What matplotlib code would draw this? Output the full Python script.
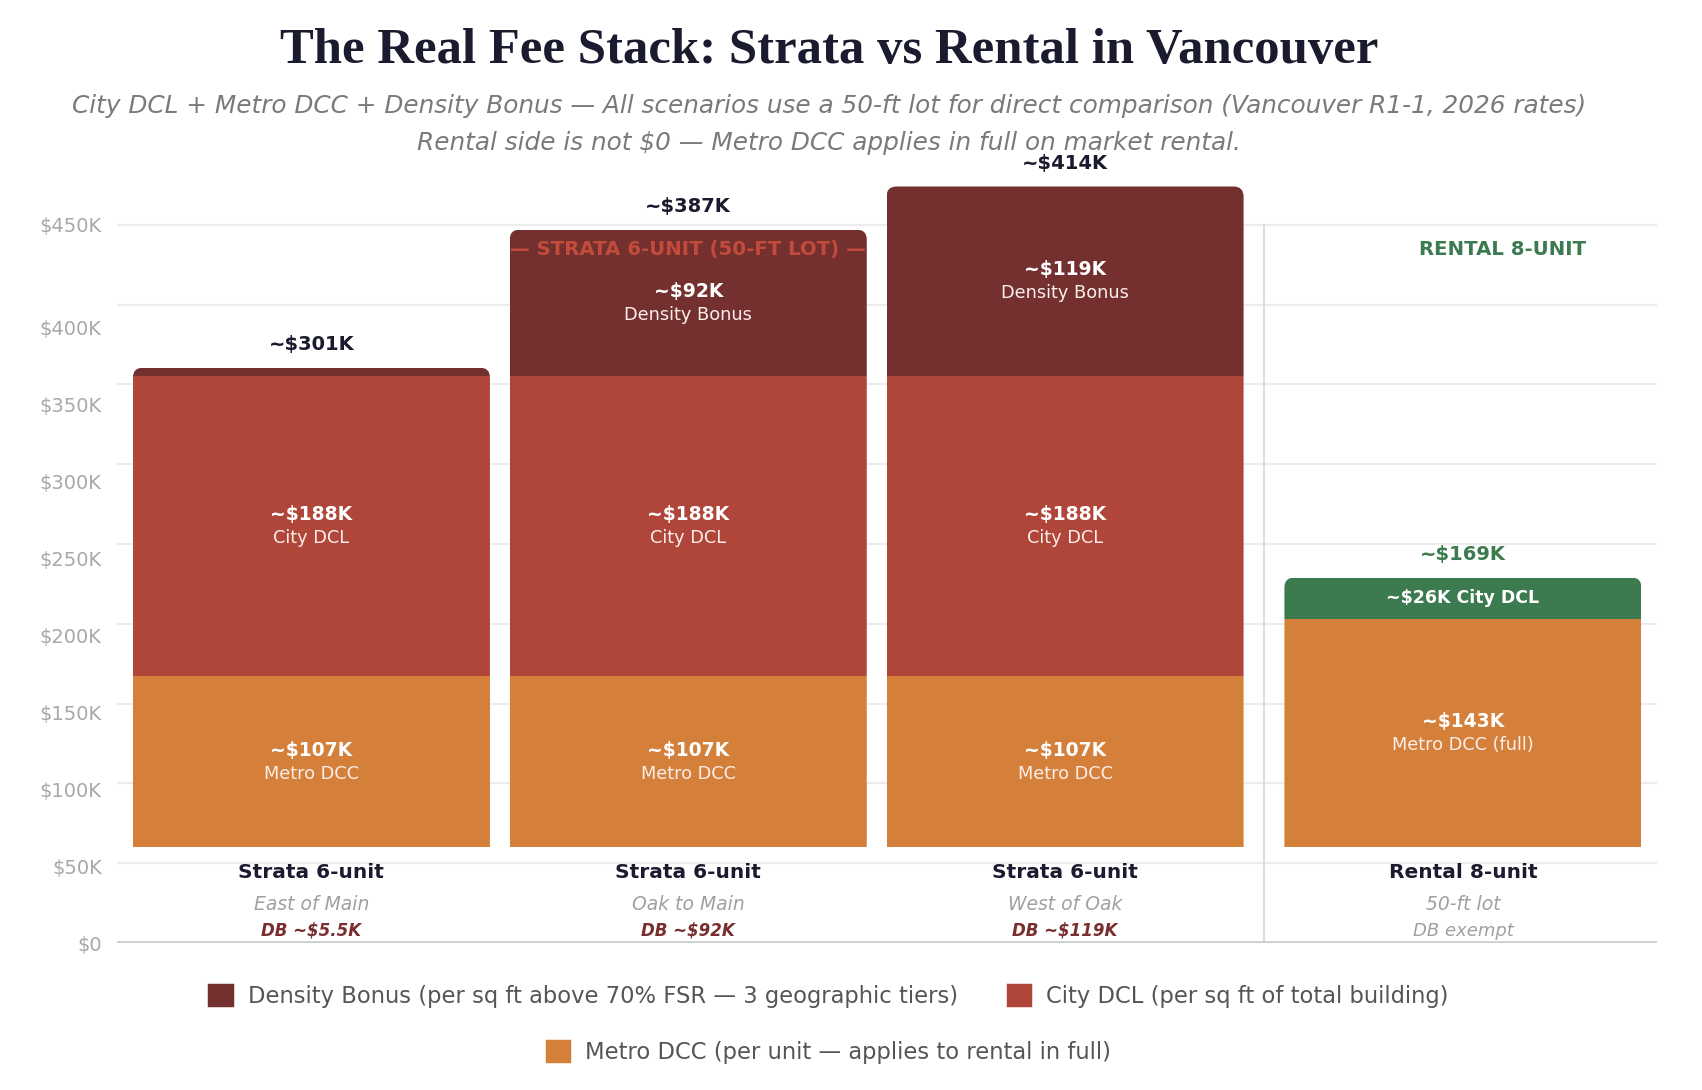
import matplotlib
matplotlib.use("Agg")
import matplotlib.pyplot as plt
from matplotlib.patches import FancyBboxPatch, Patch
import numpy as np

plt.rcParams["font.family"] = ["DejaVu Sans"]

# ================== DATA ($K) ==================
scenarios = ["Strata 6-unit", "Strata 6-unit", "Strata 6-unit", "Rental 8-unit"]
locations = ["East of Main", "Oak to Main", "West of Oak", "50-ft lot"]
db_notes = ["DB ~$5.5K", "DB ~$92K", "DB ~$119K", "DB exempt"]
metro_dcc = [107, 107, 107, 143]
city_dcl = [188, 188, 188, 26]
density_bonus = [5.5, 92, 119, 0]
totals = [301, 387, 414, 169]
metro_names = ["Metro DCC", "Metro DCC", "Metro DCC", "Metro DCC (full)"]
ytick_vals = [0, 50, 100, 150, 200, 250, 300, 350, 400, 450]

# ================== STYLE ==================
C_DB = "#74302f"
C_CITY = "#b0453a"
C_METRO = "#d4803a"
C_GREEN = "#3c7a4f"
C_NAVY = "#1b1b2f"
C_HEAD = "#c24b3b"

W, H = 1702, 1090
fig = plt.figure(figsize=(W / 100, H / 100), dpi=100)

# plot area in pixels
px_left, px_right, px_bottom, px_top = 117, 1657, 943, 140
px_per_k = 79.8 / 50          # grid scale
lab_px_per_k = 76.9 / 50      # the tick labels sit on a slightly tighter scale
rect = [px_left / W, 1 - px_bottom / H, (px_right - px_left) / W, (px_bottom - px_top) / H]

# tick label axis (behind); the top label stays pinned to the top gridline
lab_pos = [v * 1.0 for v in ytick_vals]
lab_pos[-1] = ytick_vals[-1] * px_per_k / lab_px_per_k
ax_lab = fig.add_axes(rect, zorder=0)
ax_lab.set_ylim(0, (px_bottom - px_top) / lab_px_per_k)
ax_lab.set_yticks(lab_pos)
ax_lab.set_yticklabels(["$0" if v == 0 else f"${v}K" for v in ytick_vals])
ax_lab.tick_params(axis="y", length=0, pad=11, labelsize=14, labelcolor="#a8a8a8")
ax_lab.set_xticks([])
for s in ax_lab.spines.values():
    s.set_visible(False)
ax_lab.patch.set_visible(False)

# main axis
ax = fig.add_axes(rect, zorder=1)
ax.patch.set_visible(False)
ax.set_ylim(0, (px_bottom - px_top) / px_per_k)
ax.set_xlim(-0.516, 3.571)
ax.set_yticks(ytick_vals)
ax.tick_params(axis="y", length=0, labelleft=False)
ax.set_xticks([])
for s in ax.spines.values():
    s.set_visible(False)
ax.yaxis.grid(True, color="#ececec", lw=1.5)
ax.set_axisbelow(True)
ax.axhline(0, color="#cccccc", lw=2.6, zorder=2)

x = np.array([0, 1, 2, 3.056])
bw = 0.9476
floor = 60  # stacks start above the axis floor, as in the source

metro = np.array(metro_dcc)
city = np.array(city_dcl)
db = np.array(density_bonus)
city_colors = [C_CITY, C_CITY, C_CITY, C_GREEN]

b1 = ax.bar(x, metro, bw, bottom=floor, color=C_METRO, lw=0, zorder=3)
b2 = ax.bar(x, city, bw, bottom=floor + metro, color=city_colors, lw=0, zorder=3)
b3 = ax.bar(x, db, bw, bottom=floor + metro + city, color=C_DB, lw=0, zorder=3)

# rounded top corners: clip every stack by a rounded box
x_px = (px_right - px_left) / (3.571 + 0.516)
aspect = x_px / px_per_k
r = 10 / x_px
tops = floor + metro + city + db
for i in range(len(x)):
    clip = FancyBboxPatch((x[i] - bw / 2, floor - 30), bw, tops[i] - floor + 30,
                          boxstyle=f"round,pad=0,rounding_size={r}",
                          mutation_aspect=aspect, transform=ax.transData)
    for cont in (b1, b2, b3):
        cont.patches[i].set_clip_path(clip)

# separator between strata and rental
sep = (x[2] + x[3]) / 2
ax.plot([sep, sep], [0, 450], color="#dddddd", lw=1.5, zorder=1)


def seg_label(xc, y0, h, value, name):
    ym = y0 + h / 2
    ax.annotate(f"~${value:g}K", (xc, ym), xytext=(0, 8.5), textcoords="offset points",
                ha="center", va="center", color="white", fontsize=13.5, fontweight="bold", zorder=5)
    ax.annotate(name, (xc, ym), xytext=(0, -8.5), textcoords="offset points",
                ha="center", va="center", color="#fbeeea", fontsize=12.8, zorder=5)


for i in range(len(x)):
    seg_label(x[i], floor, metro[i], metro[i], metro_names[i])
    if i < 3:
        seg_label(x[i], floor + metro[i], city[i], city[i], "City DCL")
        if db[i] > 20:
            seg_label(x[i], floor + metro[i] + city[i], db[i], db[i], "Density Bonus")
    else:
        ax.annotate(f"~${city[i]:g}K City DCL", (x[i], floor + metro[i] + city[i] / 2),
                    ha="center", va="center", color="white", fontsize=12.5,
                    fontweight="bold", zorder=5)

    # total on top
    tcol = C_GREEN if i == 3 else C_NAVY
    ax.annotate(f"~${totals[i]}K", (x[i], tops[i]), xytext=(0, 16.5), textcoords="offset points",
                ha="center", va="center", color=tcol, fontsize=14, fontweight="bold",
                annotation_clip=False)

    # category labels under the stack
    ax.annotate(scenarios[i], (x[i], floor), xytext=(0, -18), textcoords="offset points",
                ha="center", va="center", color=C_NAVY, fontsize=14.5, fontweight="bold")
    ax.annotate(locations[i], (x[i], floor), xytext=(0, -41), textcoords="offset points",
                ha="center", va="center", color="#a0a0a0", fontsize=13.5, style="italic")
    if i < 3:
        ax.annotate(db_notes[i], (x[i], floor), xytext=(0, -60), textcoords="offset points",
                    ha="center", va="center", color="#7a2e2e", fontsize=12,
                    style="italic", fontweight="bold")
    else:
        ax.annotate(db_notes[i], (x[i], floor), xytext=(0, -60), textcoords="offset points",
                    ha="center", va="center", color="#a0a0a0", fontsize=13, style="italic")

# group headers
ax.annotate("— STRATA 6-UNIT (50-FT LOT) —", (x[1], 450), xytext=(0, -18), textcoords="offset points",
            ha="center", va="center", color=C_HEAD, fontsize=14.2, fontweight="bold", zorder=6)
ax.annotate("RENTAL 8-UNIT", (x[3] + 0.105, 450), xytext=(0, -18), textcoords="offset points",
            ha="center", va="center", color=C_GREEN, fontsize=14.2, fontweight="bold", zorder=6)

# ================== TITLES ==================
cx = 829 / W
fig.text(cx, 1 - 51 / H, "The Real Fee Stack: Strata vs Rental in Vancouver",
         ha="center", va="center", fontsize=36.5, fontweight="bold", color=C_NAVY,
         family=["Liberation Serif", "DejaVu Serif"])
fig.text(cx, 1 - 106 / H,
         "City DCL + Metro DCC + Density Bonus — All scenarios use a 50-ft lot for direct comparison (Vancouver R1-1, 2026 rates)",
         ha="center", va="center", fontsize=17.8, style="italic", color="#7a7a7a")
fig.text(cx, 1 - 143 / H, "Rental side is not $0 — Metro DCC applies in full on market rental.",
         ha="center", va="center", fontsize=17.8, style="italic", color="#7a7a7a")

# ================== LEGEND ==================
def swatch(c, label):
    return Patch(facecolor=c, edgecolor=c, lw=2.5, joinstyle="round", label=label)

leg_kw = dict(loc="center", frameon=False, fontsize=16.3, handlelength=1.0, handleheight=1.0,
              handletextpad=0.7, columnspacing=2.2, labelcolor="#555555")
fig.legend(handles=[swatch(C_DB, "Density Bonus (per sq ft above 70% FSR — 3 geographic tiers)"),
                    swatch(C_CITY, "City DCL (per sq ft of total building)")],
           ncol=2, bbox_to_anchor=(cx, 1 - 996 / H), **leg_kw)
fig.legend(handles=[swatch(C_METRO, "Metro DCC (per unit — applies to rental in full)")],
           ncol=1, bbox_to_anchor=(cx, 1 - 1052 / H), **leg_kw)

fig.savefig("out.png", dpi=100, facecolor="white")
